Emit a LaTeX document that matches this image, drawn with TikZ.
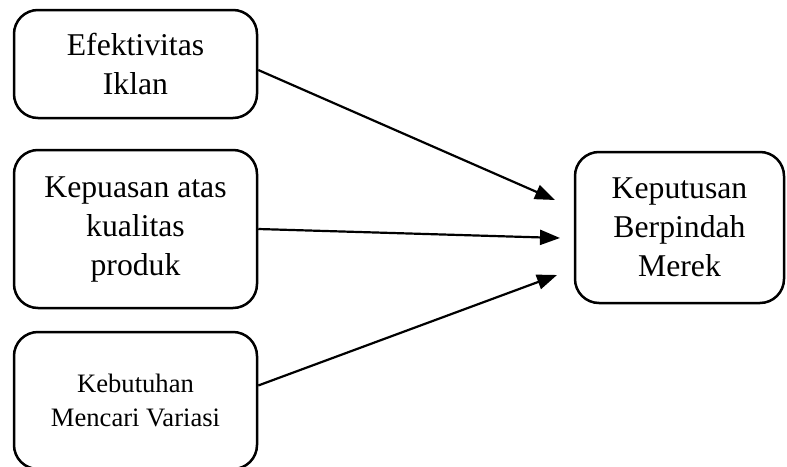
\documentclass[tikz,border=0pt]{standalone}
\usepackage{fontspec}
\setmainfont{Liberation Serif}
\usetikzlibrary{arrows.meta,positioning}

\begin{document}
\begin{tikzpicture}[
        x=1pt, y=-1pt,
        font=\fontsize{31.7}{39}\selectfont,
        var/.style={draw, line width=2.5pt, rounded corners=24pt, align=center, minimum width=243pt, inner sep=0pt},
        line/.style={-{Triangle[length=20pt, width=15pt]}, line width=2.2pt}
    ]
        \useasboundingbox (0,0) rectangle (787,466);
        \node[var, minimum height=108pt] (iklan) at (135.5,64) {Efektivitas\\Iklan};
        \node[var, minimum height=158pt, below=29.5pt of iklan] (kepuasan) {Kepuasan atas\\kualitas\\produk};
        \node[var, minimum height=137pt, below=21.5pt of kepuasan, font=\fontsize{26.6}{34}\selectfont] (variasi) {Kebutuhan\\Mencari Variasi};
        \node[var, minimum width=209pt, minimum height=151pt] (merek) at (679.5,227.5) {Keputusan\\Berpindah\\Merek};

        \coordinate (in1) at (555,200);
        \coordinate (in2) at (560,238);
        \coordinate (in3) at (557,275);

        \draw[line] ([yshift=-6pt]iklan.east) -- (in1);
        \draw[line] (kepuasan.east) -- (in2);
        \draw[line] ([yshift=15pt]variasi.east) -- (in3);
    \end{tikzpicture}
\end{document}
